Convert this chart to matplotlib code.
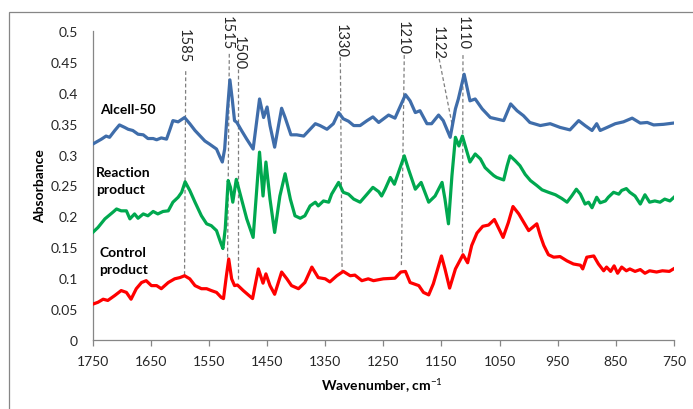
import matplotlib
matplotlib.use("Agg")
import matplotlib.pyplot as plt
from matplotlib.patches import Rectangle

plt.rcParams['font.family'] = ['Lato', 'DejaVu Sans']
plt.rcParams['mathtext.fontset'] = 'custom'
plt.rcParams['mathtext.rm'] = 'Lato'
plt.rcParams['mathtext.bf'] = 'Lato:bold'

# ---- data ----
alcell_wn = [1750, 1735, 1727, 1721, 1712, 1704, 1695, 1689, 1681, 1672, 1663, 1655, 1646, 1640, 1632, 1623,
             1617, 1612, 1603, 1592, 1583, 1574, 1566, 1557, 1549, 1543, 1537, 1531, 1527, 1523, 1518, 1514,
             1510, 1506, 1502, 1494, 1485, 1474, 1463, 1456, 1450, 1445, 1437, 1425, 1419, 1409, 1399, 1387,
             1376, 1367, 1359, 1347, 1336, 1327, 1319, 1310, 1301, 1290, 1278, 1268, 1258, 1241, 1230, 1212,
             1204, 1195, 1187, 1175, 1167, 1155, 1147, 1135, 1126, 1121, 1111, 1101, 1092, 1080, 1066, 1043,
             1031, 1020, 1009, 998, 980, 963, 946, 929, 914, 903, 891, 883, 877, 865, 851, 837, 822, 808, 796,
             785, 768, 751]
alcell_abs = [0.317, 0.325, 0.330, 0.328, 0.339, 0.348, 0.344, 0.341, 0.339, 0.333, 0.332, 0.326, 0.326, 0.324,
              0.327, 0.325, 0.341, 0.355, 0.353, 0.360, 0.350, 0.339, 0.331, 0.322, 0.317, 0.313, 0.309, 0.296,
              0.288, 0.309, 0.374, 0.421, 0.390, 0.355, 0.352, 0.339, 0.325, 0.309, 0.390, 0.360, 0.377, 0.347,
              0.312, 0.375, 0.360, 0.332, 0.332, 0.330, 0.341, 0.350, 0.347, 0.341, 0.350, 0.368, 0.358, 0.354,
              0.347, 0.347, 0.355, 0.361, 0.352, 0.364, 0.359, 0.397, 0.387, 0.368, 0.371, 0.350, 0.350, 0.364,
              0.355, 0.328, 0.374, 0.390, 0.430, 0.387, 0.390, 0.374, 0.360, 0.355, 0.382, 0.371, 0.363, 0.352,
              0.347, 0.350, 0.344, 0.340, 0.355, 0.347, 0.339, 0.350, 0.339, 0.344, 0.350, 0.353, 0.359, 0.351,
              0.352, 0.348, 0.349, 0.351]

reaction_wn = [1750, 1741, 1729, 1715, 1709, 1701, 1692, 1686, 1678, 1672, 1663, 1655, 1646, 1638, 1629, 1620,
               1612, 1603, 1597, 1591, 1583, 1574, 1563, 1554, 1546, 1537, 1530, 1526, 1522, 1517, 1513, 1509,
               1503, 1494, 1485, 1474, 1463, 1457, 1452, 1445, 1437, 1428, 1419, 1410, 1402, 1393, 1385, 1376,
               1367, 1362, 1353, 1344, 1339, 1327, 1319, 1310, 1301, 1290, 1278, 1268, 1258, 1253, 1247, 1238,
               1231, 1224, 1214, 1207, 1195, 1185, 1172, 1161, 1149, 1144, 1138, 1132, 1126, 1120, 1114, 1106,
               1101, 1092, 1083, 1075, 1066, 1060, 1055, 1043, 1037, 1032, 1023, 1015, 1006, 997, 986, 977, 966,
               954, 943, 934, 926, 918, 911, 903, 897, 891, 883, 877, 868, 863, 854, 845, 840, 832, 826, 817, 808,
               800, 792, 783, 774, 766, 757, 750]
reaction_abs = [0.174, 0.182, 0.196, 0.207, 0.212, 0.209, 0.209, 0.196, 0.204, 0.197, 0.204, 0.201, 0.208,
                0.204, 0.208, 0.209, 0.223, 0.231, 0.239, 0.256, 0.242, 0.223, 0.201, 0.188, 0.185, 0.177, 0.158,
                0.148, 0.180, 0.258, 0.247, 0.223, 0.260, 0.228, 0.196, 0.166, 0.304, 0.233, 0.288, 0.228, 0.174,
                0.233, 0.269, 0.228, 0.201, 0.197, 0.201, 0.217, 0.223, 0.217, 0.225, 0.223, 0.236, 0.255, 0.239,
                0.236, 0.228, 0.223, 0.236, 0.247, 0.240, 0.233, 0.244, 0.263, 0.252, 0.271, 0.298, 0.277, 0.244,
                0.255, 0.223, 0.233, 0.255, 0.228, 0.188, 0.266, 0.328, 0.314, 0.330, 0.304, 0.288, 0.301, 0.293,
                0.279, 0.271, 0.266, 0.263, 0.259, 0.282, 0.298, 0.290, 0.282, 0.268, 0.258, 0.250, 0.243, 0.239,
                0.235, 0.229, 0.223, 0.233, 0.244, 0.236, 0.220, 0.223, 0.214, 0.231, 0.222, 0.225, 0.231, 0.239,
                0.236, 0.242, 0.245, 0.239, 0.233, 0.220, 0.235, 0.223, 0.225, 0.223, 0.228, 0.225, 0.231]

control_wn = [1750, 1741, 1732, 1724, 1712, 1701, 1692, 1684, 1675, 1666, 1658, 1649, 1640, 1632, 1620, 1609,
              1600, 1592, 1583, 1574, 1563, 1554, 1546, 1537, 1529, 1525, 1520, 1516, 1511, 1506, 1501, 1491,
              1475, 1465, 1457, 1452, 1445, 1437, 1425, 1416, 1408, 1396, 1385, 1373, 1362, 1350, 1342, 1330,
              1319, 1307, 1299, 1287, 1276, 1267, 1250, 1230, 1220, 1212, 1204, 1189, 1181, 1172, 1164, 1150,
              1144, 1136, 1126, 1113, 1105, 1098, 1089, 1079, 1069, 1059, 1044, 1035, 1027, 1017, 1012, 1000,
              986, 980, 974, 966, 957, 946, 934, 923, 911, 907, 900, 888, 880, 871, 866, 859, 853, 847, 840, 832,
              826, 817, 808, 800, 792, 780, 770, 758, 751]
control_abs = [0.058, 0.061, 0.066, 0.064, 0.072, 0.080, 0.077, 0.066, 0.083, 0.093, 0.096, 0.088, 0.088,
               0.083, 0.093, 0.099, 0.101, 0.104, 0.099, 0.088, 0.083, 0.083, 0.080, 0.077, 0.069, 0.067, 0.104,
               0.131, 0.099, 0.088, 0.089, 0.080, 0.067, 0.115, 0.092, 0.107, 0.088, 0.074, 0.110, 0.099, 0.088,
               0.083, 0.093, 0.118, 0.101, 0.099, 0.094, 0.104, 0.111, 0.104, 0.105, 0.096, 0.099, 0.096, 0.099,
               0.100, 0.110, 0.111, 0.093, 0.088, 0.077, 0.073, 0.091, 0.136, 0.115, 0.084, 0.115, 0.138, 0.125,
               0.153, 0.173, 0.184, 0.186, 0.195, 0.166, 0.190, 0.216, 0.204, 0.196, 0.177, 0.188, 0.169, 0.153,
               0.138, 0.134, 0.135, 0.128, 0.123, 0.121, 0.115, 0.134, 0.136, 0.123, 0.112, 0.118, 0.111, 0.120,
               0.108, 0.118, 0.112, 0.115, 0.111, 0.114, 0.108, 0.112, 0.110, 0.112, 0.111, 0.115]

series_names = ['Alcell-50', 'Reaction\nproduct', 'Control\nproduct']

# peak annotations: label, label anchor (wn, abs), dashed line start and end (wn, abs)
peak_labels = ['1585', '1515', '1500', '1330', '1210', '1122', '1110']
peak_label_wn = [1593, 1519, 1498, 1324, 1216, 1157, 1113]
peak_label_abs = [0.450, 0.471, 0.4385, 0.458, 0.463, 0.455, 0.471]
peak_top_wn = [1590, 1515, 1500, 1324, 1214, 1154, 1113]
peak_top_abs = [0.435, 0.463, 0.439, 0.458, 0.461, 0.455, 0.461]
peak_bot_wn = [1592, 1518, 1500, 1321, 1219, 1132, 1114]
peak_bot_abs = [0.104, 0.131, 0.096, 0.112, 0.118, 0.350, 0.141]

x_ticks = [1750, 1650, 1550, 1450, 1350, 1250, 1150, 1050, 950, 850, 750]
y_ticks = [0, 0.05, 0.1, 0.15, 0.2, 0.25, 0.3, 0.35, 0.4, 0.45, 0.5]
y_tick_labels = ['0', '0.05', '0.1', '0.15', '0.2', '0.25', '0.3', '0.35', '0.4', '0.45', '0.5']

# ---- figure ----
W, H = 693, 410
fig = plt.figure(figsize=(W / 100, H / 100), dpi=100)
ax = fig.add_axes([92.7 / W, 1 - 341 / H, (674 - 92.7) / W, (341 - 32) / H])

grey = '#868686'
fig.patches.append(Rectangle((9 / W, -0.1), 1.2, 1 - 13 / H + 0.1, transform=fig.transFigure,
                             fill=False, edgecolor=grey, linewidth=0.9, zorder=0))

# dashed guides
for i in range(len(peak_labels)):
    ax.plot([peak_top_wn[i], peak_bot_wn[i]], [peak_top_abs[i], peak_bot_abs[i]],
            linestyle=(0, (3, 2)), color='#7f7f7f', linewidth=0.9, zorder=1)
    ax.text(peak_label_wn[i], peak_label_abs[i], peak_labels[i], rotation=270, ha='center', va='bottom',
            fontsize=10.5, color='#262626', clip_on=False)

ax.plot(alcell_wn, alcell_abs, color='#3F6DAA', linewidth=2.3, solid_joinstyle='round', zorder=3)
ax.plot(reaction_wn, reaction_abs, color='#00A84F', linewidth=2.3, solid_joinstyle='round', zorder=3)
ax.plot(control_wn, control_abs, color='#FF0000', linewidth=2.3, solid_joinstyle='round', zorder=3)

ax.text(1737, 0.374, series_names[0], fontsize=10, fontweight='bold', ha='left', va='center')
ax.text(1744, 0.258, series_names[1], fontsize=10, fontweight='bold', ha='left', va='center', linespacing=1.45)
ax.text(1739, 0.129, series_names[2], fontsize=10, fontweight='bold', ha='left', va='center', linespacing=1.45)

ax.set_xlim(1750, 750)
ax.set_ylim(0, 0.5)
ax.set_xticks(x_ticks)
ax.set_xticklabels([str(t) for t in x_ticks])
ax.set_yticks(y_ticks)
ax.set_yticklabels(y_tick_labels)

for s in ['top', 'right']:
    ax.spines[s].set_visible(False)
for s in ['left', 'bottom']:
    ax.spines[s].set_color(grey)
    ax.spines[s].set_linewidth(0.9)
ax.tick_params(axis='x', direction='out', length=4, width=0.9, color=grey, pad=7, labelsize=10,
               labelcolor='#262626')
ax.tick_params(axis='y', length=0, pad=10.5, labelsize=10, labelcolor='#262626')

ax.set_xlabel('Wavenumber, cm$^{-1}$', fontsize=10, fontweight='bold', labelpad=8)
ax.set_ylabel('Absorbance', fontsize=10, fontweight='bold', labelpad=8)
ax.xaxis.set_label_coords((382 - 92.7) / (674 - 92.7), -(386 - 341) / (341 - 32))
ax.yaxis.set_label_coords(-(92.7 - 40) / (674 - 92.7), (341 - 186) / (341 - 32))
ax.xaxis.label.set_va('center')
ax.yaxis.label.set_va('center')

fig.savefig('out.png', dpi=100)
